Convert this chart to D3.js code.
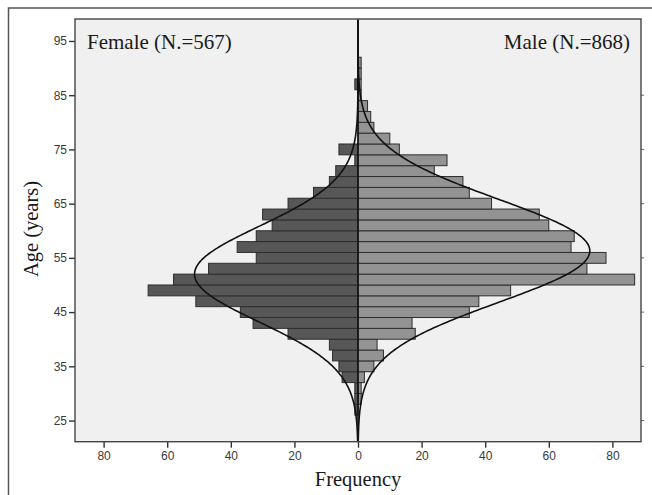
<!DOCTYPE html>
<html>
<head>
<meta charset="utf-8">
<script src="https://cdn.jsdelivr.net/npm/d3@7"></script>
<style>
  body { margin: 0; background: #fff; }
  svg { display: block; }
</style>
</head>
<body>
<div id="chart"></div>
<script>
// age bins are 2 years wide, labelled by lower edge
const binStarts = [26, 28, 30, 32, 34, 36, 38, 40, 42, 44, 46, 48, 50, 52, 54, 56, 58, 60,
                   62, 64, 66, 68, 70, 72, 74, 76, 78, 80, 82, 84, 86, 88, 90];
const femaleCounts = [1, 1, 1, 5, 6, 8, 9, 22, 33, 37, 51, 66, 58, 47, 32, 38, 32, 27,
                      30, 22, 14, 9, 7, 1, 6, 0, 0, 0, 0, 0, 1, 0, 0];
const maleCounts = [0, 1, 1, 2, 5, 8, 6, 18, 17, 35, 38, 48, 87, 72, 78, 67, 68, 60,
                    57, 42, 35, 33, 24, 28, 13, 10, 5, 4, 3, 1, 1, 1, 1];
const yTicks = [25, 35, 45, 55, 65, 75, 85, 95];
const xTicks = [-80, -60, -40, -20, 0, 20, 40, 60, 80];
const groupLabels = ['Female (N.=567)', 'Male (N.=868)'];
const groupN = [567, 868];
// normal fit: mean, sd (years)
const fitMean = [52.0, 56.3];
const fitSd = [8.8, 9.5];
const binWidth = 2;

window.Pyr = window.Pyr || {};

Pyr.init = function() {
    Pyr.width = 652;
    Pyr.height = 495;
    Pyr.plot = {left: 75, right: 641, top: 19, bottom: 441.7};

    Pyr.svg = d3.select('#chart').append('svg')
                .attr('width', Pyr.width)
                .attr('height', Pyr.height);

    Pyr.x = d3.scaleLinear().domain([-89, 89]).range([Pyr.plot.left, Pyr.plot.right]);
    Pyr.y = d3.scaleLinear().domain([21.1, 99.05]).range([Pyr.plot.bottom, Pyr.plot.top]);

    Pyr.drawFrame();
    Pyr.drawBars();
    Pyr.drawCurves();
    Pyr.drawAxes();
    Pyr.drawText();
};

Pyr.drawFrame = function() {
    // outer figure border (runs off right/bottom edge)
    Pyr.svg.append('rect')
        .attr('x', 8.5).attr('y', 8)
        .attr('width', 660).attr('height', 500)
        .attr('fill', 'none')
        .attr('stroke', '#555')
        .attr('stroke-width', 1.5);

    Pyr.svg.append('rect')
        .attr('x', Pyr.plot.left).attr('y', Pyr.plot.top)
        .attr('width', Pyr.plot.right - Pyr.plot.left)
        .attr('height', Pyr.plot.bottom - Pyr.plot.top)
        .attr('fill', '#f0f0f0');

    Pyr.svg.append('clipPath').attr('id', 'plot-clip')
        .append('rect')
        .attr('x', Pyr.plot.left).attr('y', Pyr.plot.top)
        .attr('width', Pyr.plot.right - Pyr.plot.left)
        .attr('height', Pyr.plot.bottom - Pyr.plot.top);
};

Pyr.drawBars = function() {
    let rows = binStarts.map((b, i) => ({start: b, f: femaleCounts[i], m: maleCounts[i]}));
    let g = Pyr.svg.append('g').attr('clip-path', 'url(#plot-clip)');

    g.selectAll('rect.female').data(rows.filter(d => d.f > 0)).join('rect')
        .attr('class', 'female')
        .attr('x', d => Pyr.x(-d.f))
        .attr('y', d => Pyr.y(d.start + binWidth))
        .attr('width', d => Pyr.x(0) - Pyr.x(-d.f))
        .attr('height', d => Pyr.y(d.start) - Pyr.y(d.start + binWidth))
        .attr('fill', '#575757')
        .attr('stroke', '#2e2e2e')
        .attr('stroke-width', 1);

    g.selectAll('rect.male').data(rows.filter(d => d.m > 0)).join('rect')
        .attr('class', 'male')
        .attr('x', Pyr.x(0))
        .attr('y', d => Pyr.y(d.start + binWidth))
        .attr('width', d => Pyr.x(d.m) - Pyr.x(0))
        .attr('height', d => Pyr.y(d.start) - Pyr.y(d.start + binWidth))
        .attr('fill', '#939393')
        .attr('stroke', '#2e2e2e')
        .attr('stroke-width', 1);
};

Pyr.drawCurves = function() {
    let g = Pyr.svg.append('g').attr('clip-path', 'url(#plot-clip)');
    let ages = d3.range(21.1, 99.1, 0.25);
    [-1, 1].forEach(function(side, k) {
        let peak = groupN[k] * binWidth / (fitSd[k] * Math.sqrt(2 * Math.PI));
        let line = d3.line()
            .x(a => Pyr.x(side * peak * Math.exp(-0.5 * ((a - fitMean[k]) / fitSd[k]) ** 2)))
            .y(a => Pyr.y(a))
            .curve(d3.curveBasis);
        g.append('path')
            .attr('d', line(ages))
            .attr('fill', 'none')
            .attr('stroke', '#111')
            .attr('stroke-width', 1.6);
    });

    // zero line
    Pyr.svg.append('line')
        .attr('x1', Pyr.x(0)).attr('x2', Pyr.x(0))
        .attr('y1', Pyr.plot.top).attr('y2', Pyr.plot.bottom)
        .attr('stroke', '#111')
        .attr('stroke-width', 1.6);
};

Pyr.drawAxes = function() {
    let yAxis = d3.axisLeft(Pyr.y).tickValues(yTicks).tickSize(6).tickPadding(2);
    let ya = Pyr.svg.append('g').attr('transform', 'translate(' + Pyr.plot.left + ',0)').call(yAxis);

    let xAxis = d3.axisBottom(Pyr.x).tickValues(xTicks).tickSize(6).tickPadding(4)
        .tickFormat(d => Math.abs(d));
    let xa = Pyr.svg.append('g').attr('transform', 'translate(0,' + Pyr.plot.bottom + ')').call(xAxis);

    // little ticks on right border
    Pyr.svg.append('g').selectAll('line').data(yTicks.slice(0, 7)).join('line')
        .attr('x1', Pyr.plot.right).attr('x2', Pyr.plot.right + 3)
        .attr('y1', d => Pyr.y(d)).attr('y2', d => Pyr.y(d))
        .attr('stroke', '#666').attr('stroke-width', 1);

    [ya, xa].forEach(function(a) {
        a.select('.domain').remove();
        a.selectAll('line').attr('stroke', '#333').attr('stroke-width', 1.4);
        a.selectAll('text')
            .attr('fill', '#3a3a3a')
            .style('font-family', 'Arial, "Liberation Sans", sans-serif')
            .style('font-size', '12px');
    });

    Pyr.svg.append('rect')
        .attr('x', Pyr.plot.left).attr('y', Pyr.plot.top)
        .attr('width', Pyr.plot.right - Pyr.plot.left)
        .attr('height', Pyr.plot.bottom - Pyr.plot.top)
        .attr('fill', 'none')
        .attr('stroke', '#444')
        .attr('stroke-width', 1.4);
};

Pyr.drawText = function() {
    let serif = '"Liberation Serif", "Times New Roman", serif';

    Pyr.svg.append('text')
        .attr('x', 87).attr('y', 48.5)
        .attr('font-family', serif).attr('font-size', 21)
        .attr('fill', '#1a1a1a')
        .text(groupLabels[0]);

    Pyr.svg.append('text')
        .attr('x', 630).attr('y', 48.5)
        .attr('text-anchor', 'end')
        .attr('font-family', serif).attr('font-size', 21)
        .attr('fill', '#1a1a1a')
        .text(groupLabels[1]);

    Pyr.svg.append('text')
        .attr('transform', 'translate(38,229) rotate(-90)')
        .attr('text-anchor', 'middle')
        .attr('font-family', serif).attr('font-size', 20.5)
        .attr('fill', '#1a1a1a')
        .text('Age (years)');

    Pyr.svg.append('text')
        .attr('x', Pyr.x(0)).attr('y', 486)
        .attr('text-anchor', 'middle')
        .attr('font-family', serif).attr('font-size', 20.5)
        .attr('fill', '#1a1a1a')
        .text('Frequency');
};

document.addEventListener('DOMContentLoaded', Pyr.init);
</script>
</body>
</html>
